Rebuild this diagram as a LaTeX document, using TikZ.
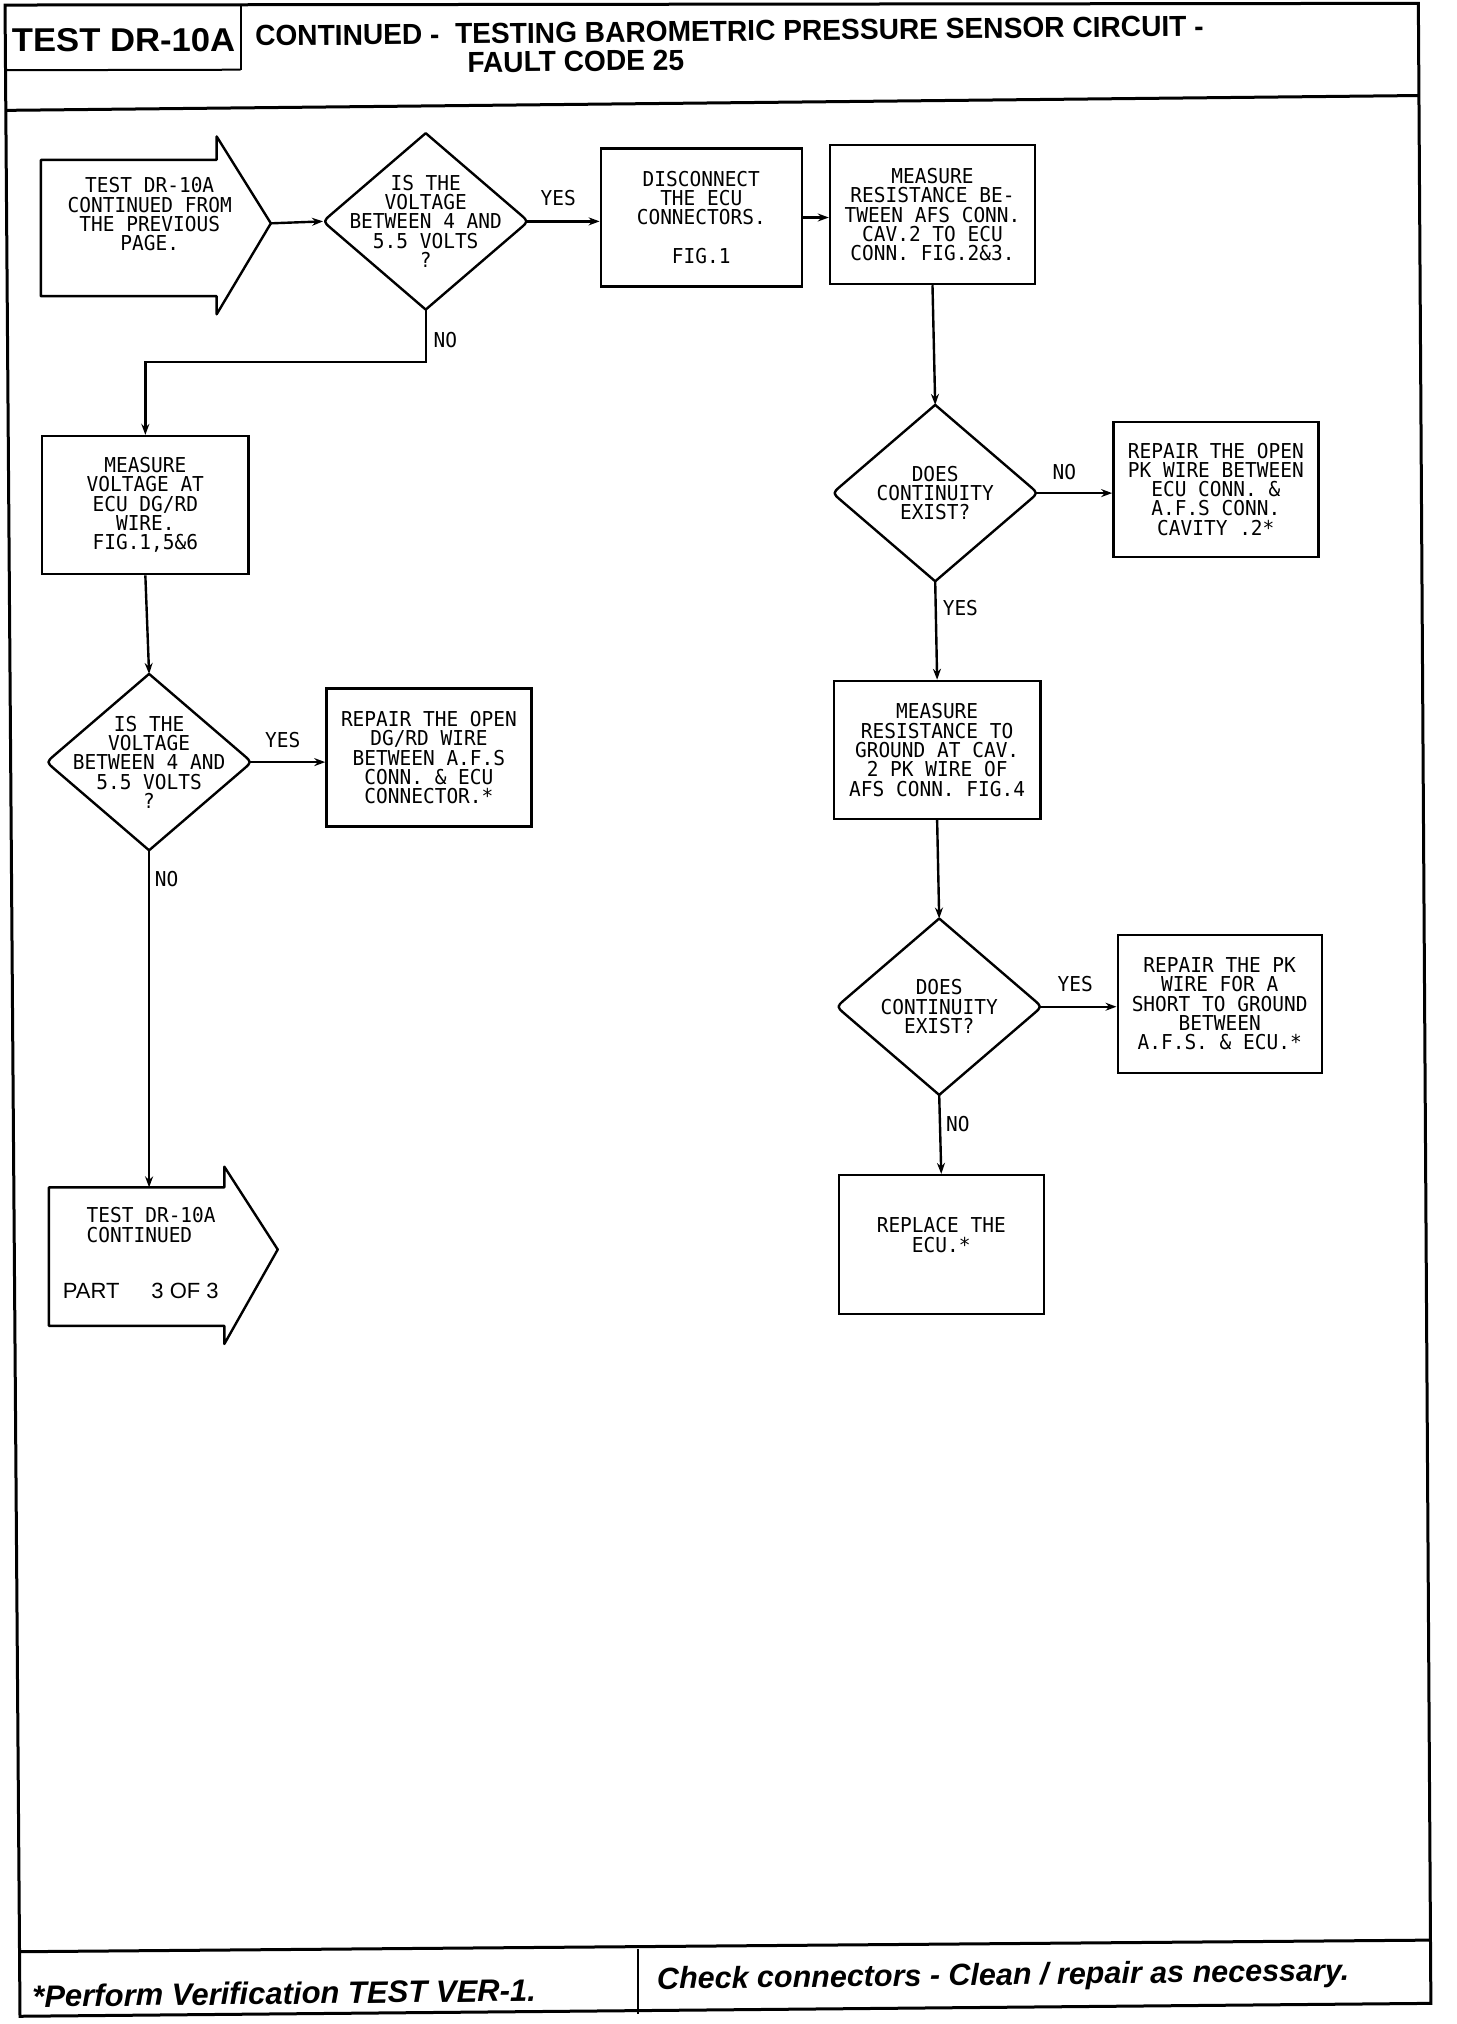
\documentclass[tikz,border=0pt]{standalone}
\usepackage{fontspec}
\usetikzlibrary{calc,arrows.meta}
\newfontfamily\plotfam[FakeStretch=0.95]{DejaVu Sans Mono}
\newfontfamily\hdrfam[FakeStretch=1.05]{Liberation Sans}
\newfontfamily\ttlfam[FakeStretch=0.97]{Liberation Sans}
\newfontfamily\ftrfam{Liberation Sans}
\newcommand\plotfont{\plotfam\fontsize{20.5}{19.3}\selectfont}
\tikzset{
  ptxt/.style={font=\plotfont, inner sep=0pt, align=center},
  box/.style={ptxt, draw, line width=2.4pt, minimum width=205pt, minimum height=138pt},
  dia/.style={ptxt, minimum width=205pt, minimum height=176pt},
  lbl/.style={font=\plotfont, inner sep=0pt},
  conn/.style={line width=2.4pt, -{Stealth[length=11pt,width=8pt]}},
  outl/.style={line width=2.4pt, line join=round},
  frm/.style={line width=3pt, line join=miter},
}
\newcommand\drawdia[1]{%
  \draw[outl] (#1.north) -- ($(#1.east)!0.08!(#1.north)$) .. controls (#1.east) .. ($(#1.east)!0.08!(#1.south)$) -- (#1.south) -- ($(#1.west)!0.08!(#1.south)$) .. controls (#1.west) .. ($(#1.west)!0.08!(#1.north)$) -- cycle;}
\begin{document}
\begin{tikzpicture}[x=1.2908pt,y=-1.2908pt]
\useasboundingbox (0,0) rectangle (1128,1568);
\fill[white] (0,0) rectangle (1128,1568);

% frame and header / footer rules
\draw[frm] (3.9,3.9) -- (1098.8,2.6) -- (1108.5,1552) -- (15.5,1562) -- cycle;
\draw[frm] (3.9,85.5) -- (1099,74);
\draw[line width=2pt] (186.5,3.5) -- (186.5,54.2);
\draw[line width=2pt] (3.9,54.4) -- (186.5,54);
\draw[frm] (14.5,1512) -- (1108.3,1503);
\draw[line width=2pt] (494.5,1510) -- (494.5,1560);

% header texts
\node[anchor=base west, inner sep=0pt, font=\hdrfam\bfseries\fontsize{33}{34}\selectfont] (hdrtest) at (9.1,40) {TEST DR-10A};
\node[anchor=base west, inner sep=0pt, rotate=0.6, font=\ttlfam\bfseries\fontsize{29}{28}\selectfont] (title) at (197.6,35.6)
  {\begin{tabular}[t]{@{}l@{}}CONTINUED -\ \ TESTING BAROMETRIC PRESSURE SENSOR CIRCUIT -\\\hspace*{212pt}FAULT CODE 25\end{tabular}};

% footer texts
\node[anchor=base west, inner sep=0pt, rotate=0.7, font=\ftrfam\bfseries\itshape\fontsize{31}{32}\selectfont] (foot1) at (25,1555) {*Perform Verification TEST VER-1.};
\node[anchor=base west, inner sep=0pt, rotate=0.7, font=\ftrfam\bfseries\itshape\fontsize{30.5}{32}\selectfont] (foot2) at (509,1541) {Check connectors - Clean / repair as necessary.};

% start arrow
\node[ptxt, minimum width=229.6pt, minimum height=135.9pt] (s) at (120.75,176.65) {};
\draw[outl] (s.north west) -- ++(175.8pt,0) -- ++(0,23.4pt) -- ($(s.east)+(0,4.7pt)$) -- ($(s.south west)+(175.8pt,-18.1pt)$) -- ($(s.south west)+(175.8pt,0)$) -- (s.south west) -- cycle;
\coordinate (stip) at ($(s.east)+(0,4.7pt)$);
\node[ptxt] (stext) at (116,166) {TEST DR-10A\\CONTINUED FROM\\THE PREVIOUS\\PAGE.};

% end arrow
\node[ptxt, minimum width=228.5pt, minimum height=138.1pt] (e) at (126.5,973.5) {};
\draw[outl] (e.north west) -- ++(175.5pt,0) -- ++(0,20.7pt) -- ($(e.east)+(0,7.1pt)$) -- ($(e.south west)+(175.5pt,-18.1pt)$) -- ($(e.south west)+(175.5pt,0)$) -- (e.south west) -- cycle;
\node[ptxt, anchor=base west, align=left] (etext) at (67,962.2) {TEST DR-10A\\CONTINUED};
\node[anchor=base west, inner sep=0pt, font=\ftrfam\fontsize{22}{23}\selectfont] (epart) at (48.5,1005.6) {PART\hspace{32pt}3 OF 3};

% diamonds
\node[dia] (d1) at (329.8,171.5) {IS THE\\VOLTAGE\\BETWEEN 4 AND\\5.5 VOLTS\\?};
\node[dia] (d5) at (724.5,382) {DOES\\CONTINUITY\\EXIST?};
\node[dia] (d8) at (727.6,779.9) {DOES\\CONTINUITY\\EXIST?};
\node[dia] (d12) at (115.5,590.4) {IS THE\\VOLTAGE\\BETWEEN 4 AND\\5.5 VOLTS\\?};
\drawdia{d1}
\drawdia{d5}
\drawdia{d8}
\drawdia{d12}

% boxes
\node[box, minimum width=201pt] (b3) at (543.3,168.5) {DISCONNECT\\THE ECU\\CONNECTORS.\\[19.3pt]FIG.1};
\node[box, minimum height=139pt] (b4) at (722.4,166.2) {MEASURE\\RESISTANCE BE-\\TWEEN AFS CONN.\\CAV.2 TO ECU\\CONN. FIG.2\&3.};
\node[box, minimum height=135pt] (b6) at (941.9,379) {REPAIR THE OPEN\\PK WIRE BETWEEN\\ECU CONN. \&\\A.F.S CONN.\\CAVITY .2*};
\node[box, minimum width=206.5pt] (b7) at (726,581) {MEASURE\\RESISTANCE TO\\GROUND AT CAV.\\2 PK WIRE OF\\AFS CONN. FIG.4};
\node[box, minimum width=204pt] (b9) at (944.9,777.7) {REPAIR THE PK\\WIRE FOR A\\SHORT TO GROUND\\BETWEEN\\A.F.S. \& ECU.*};
\node[box, minimum height=139pt] (b10) at (729.2,964.2) {REPLACE THE\\ECU.*\\~};
\node[box, minimum width=206.5pt] (b11) at (112.6,391.3) {MEASURE\\VOLTAGE AT\\ECU DG/RD\\WIRE.\\FIG.1,5\&6};
\node[box] (b13) at (332.3,586.9) {REPAIR THE OPEN\\DG/RD WIRE\\BETWEEN A.F.S\\CONN. \& ECU\\CONNECTOR.*};

% connectors
\coordinate (nojog) at (329.8,280.5);
\draw[conn] (stip) -- (d1.west);
\draw[conn, shorten <=-2pt] (d1.east) -- (d1.east -| b3.west);
\draw[conn] (b3.east) -- (b3.east -| b4.west);
\draw[conn] (d1.south) -- (nojog) -| (b11.north);
\draw[conn] (b4.south) -- (d5.north);
\draw[conn, shorten <=-2pt] (d5.east) -- (d5.east -| b6.west);
\draw[conn] (d5.south) -- (b7.north);
\draw[conn] (b7.south) -- (d8.north);
\draw[conn, shorten <=-2pt] (d8.east) -- (d8.east -| b9.west);
\draw[conn] (d8.south) -- (b10.north);
\draw[conn] (b11.south) -- (d12.north);
\draw[conn, shorten <=-2pt] (d12.east) -- (d12.east -| b13.west);
\draw[conn] (d12.south) -- (d12.south |- e.north);

% connector labels
\node[lbl] (lyes1) at (432.5,153.6) {YES};
\node[lbl] (lno1) at (345,263.4) {NO};
\node[lbl] (lno5) at (824.6,366) {NO};
\node[lbl] (lyes5) at (744,471) {YES};
\node[lbl] (lyes8) at (833,762.5) {YES};
\node[lbl] (lno8) at (742,871) {NO};
\node[lbl] (lyes12) at (219,573.3) {YES};
\node[lbl] (lno12) at (129,681) {NO};
\end{tikzpicture}
\end{document}
